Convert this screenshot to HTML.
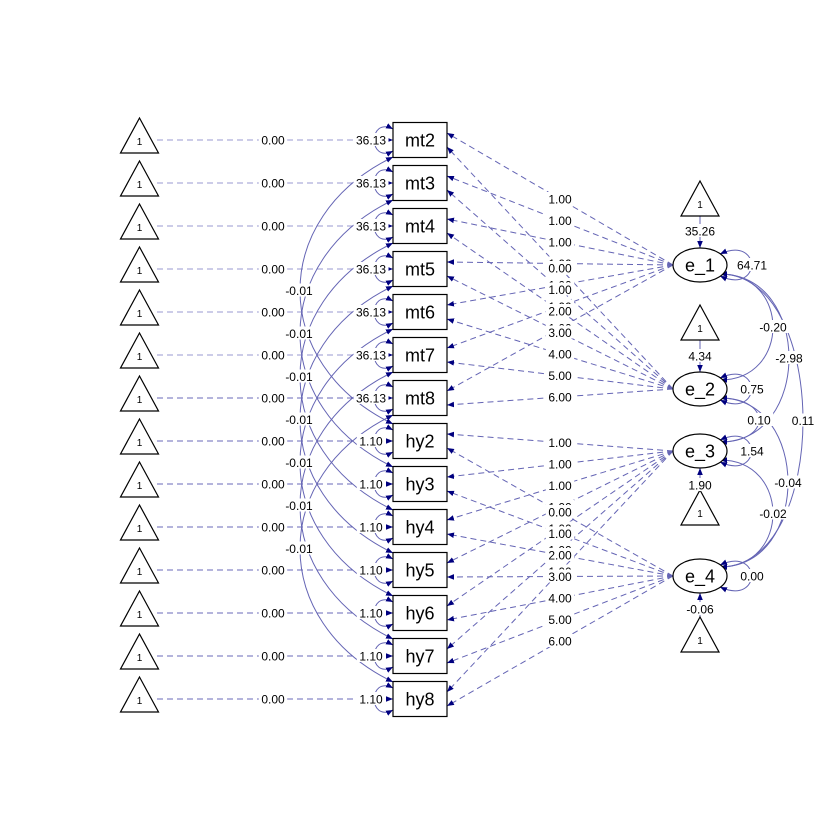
<!DOCTYPE html>
<html><head><meta charset="utf-8"><style>
html,body{margin:0;padding:0;background:#fff}
svg{display:block}
text{font-family:"Liberation Sans",Arial,sans-serif}
</style></head><body>
<svg id="s" width="840" height="840" viewBox="0 0 840 840" xmlns="http://www.w3.org/2000/svg">
<defs>
<marker id="a" viewBox="0 0 10 10" refX="10" refY="5" markerWidth="7" markerHeight="7" orient="auto-start-reverse" markerUnits="userSpaceOnUse"><path d="M0,1 L10,5 L0,9 z" fill="#00007f"/></marker>
</defs>
<rect width="840" height="840" fill="#fff"/>
<g id="edges"></g><g id="nodes"></g><g id="labels"></g>
</svg>
<script>
var NS="http://www.w3.org/2000/svg";
var E=document.getElementById('edges'),N=document.getElementById('nodes'),L=document.getElementById('labels');
function el(p,t,at,txt){var e=document.createElementNS(NS,t);for(var k in at)e.setAttribute(k,at[k]);if(txt!=null)e.textContent=txt;p.appendChild(e);return e;}
var C="#6464b4";
function line(x1,y1,x2,y2,dash,col){el(E,'line',{x1:x1,y1:y1,x2:x2,y2:y2,stroke:col||C,'stroke-width':1,'stroke-dasharray':dash?'6,4':'none','marker-end':'url(#a)'});}
function path(d,both){var a={d:d,fill:'none',stroke:C,'stroke-width':1,'marker-end':'url(#a)'};if(both)a['marker-start']='url(#a)';el(E,'path',a);}
function lab(x,y,t,fs){fs=fs||12;var w=t.length*fs*0.55+2;el(L,'rect',{x:x-w/2,y:y-fs/2-1,width:w,height:fs+1,fill:'#fff'});el(L,'text',{x:x,y:y+fs*0.36,'font-size':fs,'text-anchor':'middle',fill:'#000'},t);}
function tri(cx,top){el(N,'path',{d:'M'+cx+','+top+' L'+(cx+19)+','+(top+35)+' L'+(cx-19)+','+(top+35)+' z',fill:'#fff',stroke:'#000','stroke-width':1.2});el(N,'text',{x:cx,y:top+27,'font-size':10,'text-anchor':'middle'},'1');}
var names=['mt2','mt3','mt4','mt5','mt6','mt7','mt8','hy2','hy3','hy4','hy5','hy6','hy7','hy8'];
var Y=names.map(function(_,i){return 140+43*i;});
var BL=393,BR=447;
Y.forEach(function(y,i){
 line(157,y,BL,y,true,i<6?'#9a9ad0':'#6a6ab8');
 lab(273,y,'0.00');
 path('M'+BL+','+(y-11)+' C368,'+(y-24)+' 368,'+(y+24)+' '+BL+','+(y+11),true);
 lab(371,y,i<7?'36.13':'1.10');
 tri(139.5,y-22);
});
for(var i=0;i<7;i++){var y1=Y[i],y2=Y[i+7];
 path('M'+BL+','+(y1+17)+' C269,'+(y1+77)+' 269,'+(y2-77)+' '+BL+','+(y2-17),true);
 lab(299,(y1+y2)/2,'-0.01');}
var ex=700,ey={1:265,2:389,3:451,4:576};
function load(e,i,off,v){var y0=ey[e],yt=Y[i]+off;var x0=ex-27;
 line(x0,y0,BR,yt,true);lab((x0+BR)/2,(y0+yt)/2,v);}
for(i=0;i<7;i++){load(1,i,-7,'1.00');}
for(i=0;i<7;i++){load(2,i,7,(i).toFixed(2));}
for(i=0;i<7;i++){load(3,7+i,-7,'1.00');}
for(i=0;i<7;i++){load(4,7+i,7,(i).toFixed(2));}
[[1,'64.71'],[2,'0.75'],[3,'1.54'],[4,'0.00']].forEach(function(p){var y=ey[p[0]];
 path('M'+(ex+20)+','+(y-11)+' C'+(ex+62)+','+(y-30)+' '+(ex+62)+','+(y+30)+' '+(ex+20)+','+(y+11),true);
 lab(752,y,p[1]);});
[[1,2,773,'-0.20'],[1,3,789,'-2.98'],[1,4,803,'0.11'],[2,3,759,'0.10'],[2,4,788,'-0.04'],[3,4,773,'-0.02']].forEach(function(p){
 var y1=ey[p[0]],y2=ey[p[1]],c=(p[2]-0.25*720)/0.75;
 path('M720,'+(y1+9)+' C'+c+','+(y1+9)+' '+c+','+(y2-9)+' 720,'+(y2-9),true);
 lab(p[2],(y1+y2)/2,p[3]);});
tri(700,181);line(700,216,700,248,false);lab(700,231,'35.26');
tri(700,305);line(700,340,700,372,false);lab(700,356,'4.34');
tri(700,490);line(700,490,700,468,false);lab(700,485,'1.90');
tri(700,617);line(700,617,700,593,false);lab(700,609,'-0.06');
Y.forEach(function(y,i){el(N,'rect',{x:BL,y:y-17.5,width:BR-BL,height:35,fill:'#fff',stroke:'#000','stroke-width':1.2});
 el(N,'text',{x:(BL+BR)/2,y:y+6.5,'font-size':18,'text-anchor':'middle'},names[i]);});
[1,2,3,4].forEach(function(k){el(N,'ellipse',{cx:ex,cy:ey[k],rx:27,ry:17,fill:'#fff',stroke:'#000','stroke-width':1.2});
 el(N,'text',{x:ex,y:ey[k]+6.5,'font-size':18,'text-anchor':'middle'},'e_'+k);});
</script>
</body></html>
